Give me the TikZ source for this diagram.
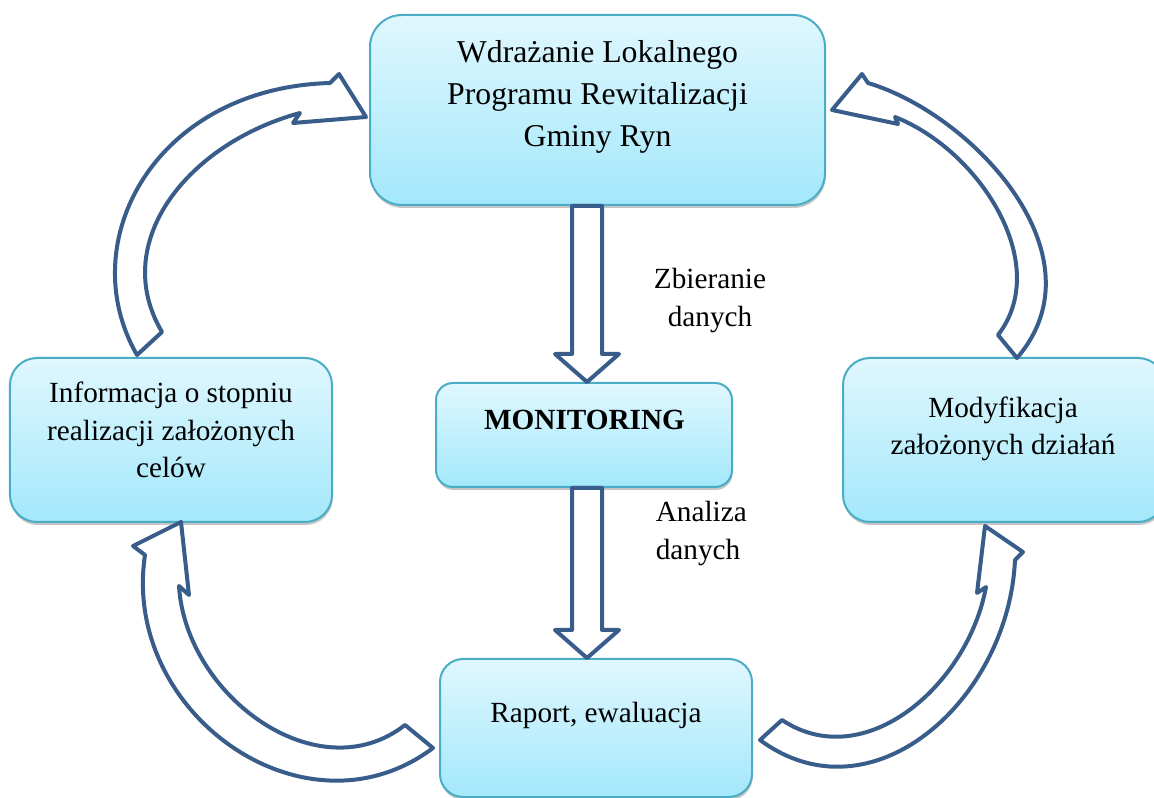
\documentclass[tikz,border=0pt]{standalone}
\usepackage{fontspec}
\setmainfont{Liberation Serif}
\usetikzlibrary{calc,shadows}
\definecolor{rimblue}{HTML}{4BACC6}
\definecolor{arrowblue}{HTML}{385D8A}
\definecolor{boxtop}{HTML}{E0F7FE}
\definecolor{boxbot}{HTML}{A3E8FB}
\begin{document}
\begin{tikzpicture}[x=0.4pt,y=-0.4pt,line join=round,
        box/.style={draw=rimblue,line width=0.8pt,top color=boxtop,bottom color=boxbot,inner sep=0pt,
            drop shadow={shadow xshift=0.3pt,shadow yshift=-1.2pt,fill=black!45}},
        txt/.style={align=center,anchor=base,font=\fontsize{11.7}{15}\selectfont},
        blk/.style={draw=arrowblue,line width=1.6pt,fill=white}]
    \useasboundingbox (0,0) rectangle (1154,798);
    % strzalka w dol: #1 poczatek, #2 grot
    \def\strzalka#1#2{\draw[blk] ($(#1)+(-15,0)$) -- ($(#2)+(-15,-28)$) -- ($(#2)+(-32,-28)$) -- (#2)
        -- ($(#2)+(32,-28)$) -- ($(#2)+(15,-28)$) -- ($(#1)+(15,0)$) -- cycle;}
    % ramki
    \node[box,minimum width=182pt,minimum height=76pt,rounded corners=12.8pt] (wdr) at (597.5,110) {};
    \node[box,minimum width=118.4pt,minimum height=41.6pt,rounded corners=6.8pt] (mon) at (584,435) {};
    \node[box,minimum width=128.8pt,minimum height=65.6pt,rounded corners=10.8pt] (info) at (171,440) {};
    \node[box,minimum width=128.8pt,minimum height=65.6pt,rounded corners=10.8pt] (mody) at (1004,440) {};
    \node[box,minimum width=124.8pt,minimum height=55.2pt,rounded corners=9.2pt] (rap) at (596,728) {};
    % teksty (baza ostatniej linii)
    \node[txt,font=\fontsize{12.7}{16.8}\selectfont] (wdr-t) at (597.5,147) {Wdrażanie Lokalnego\\Programu Rewitalizacji\\Gminy Ryn};
    \node[txt] (mon-t) at (584.5,430) {\textbf{MONITORING}};
    \node[txt] (info-t) at (171,478) {Informacja o stopniu\\realizacji założonych\\celów};
    \node[txt] (mody-t) at (1003,455) {Modyfikacja\\założonych działań};
    \node[txt] (rap-t) at (596,723) {Raport, ewaluacja};
    \node[txt,font=\fontsize{11.7}{15.4}\selectfont] (zbier) at (710,327) {Zbieranie\\danych};
    \node[txt,align=left,anchor=base west,font=\fontsize{11.7}{15.4}\selectfont] (anal) at (647,560) {Analiza\\danych};
    % strzalki srodkowe
    \coordinate (m1) at ([xshift=1.2pt]mon.north);
    \coordinate (m2) at ([xshift=1.2pt]mon.south);
    \strzalka{wdr.south -| m1}{m1}
    \strzalka{m2}{rap.north -| m2}
    % strzalki luki
    \draw[blk] (137,355) .. controls (72,242) and (155,88) .. (330,83) -- (339,74) -- (366,117)
        -- (293,123) -- (300,113) .. controls (189,143) and (108.5,241.7) .. (162,332) -- cycle;
    \draw[blk] (868,83) .. controls (973,114.5) and (1105,256) .. (1017,358) -- (998,335)
        .. controls (1053,264) and (979,150) .. (895,117) -- (898,124) -- (832,110) -- (862,74) -- cycle;
    \draw[blk] (760,740) .. controls (872,822.6) and (1008.6,700) .. (1015,560) -- (1023,552) -- (985,526)
        -- (977,593) -- (986,587) .. controls (968,685) and (864.7,775) .. (782,720) -- cycle;
    \draw[blk] (145,555) .. controls (121,713) and (305,844) .. (433,748) -- (405,725)
        .. controls (318,793) and (185.6,696) .. (179,586) -- (189,595) -- (181,522) -- (133,546) -- cycle;
\end{tikzpicture}
\end{document}
